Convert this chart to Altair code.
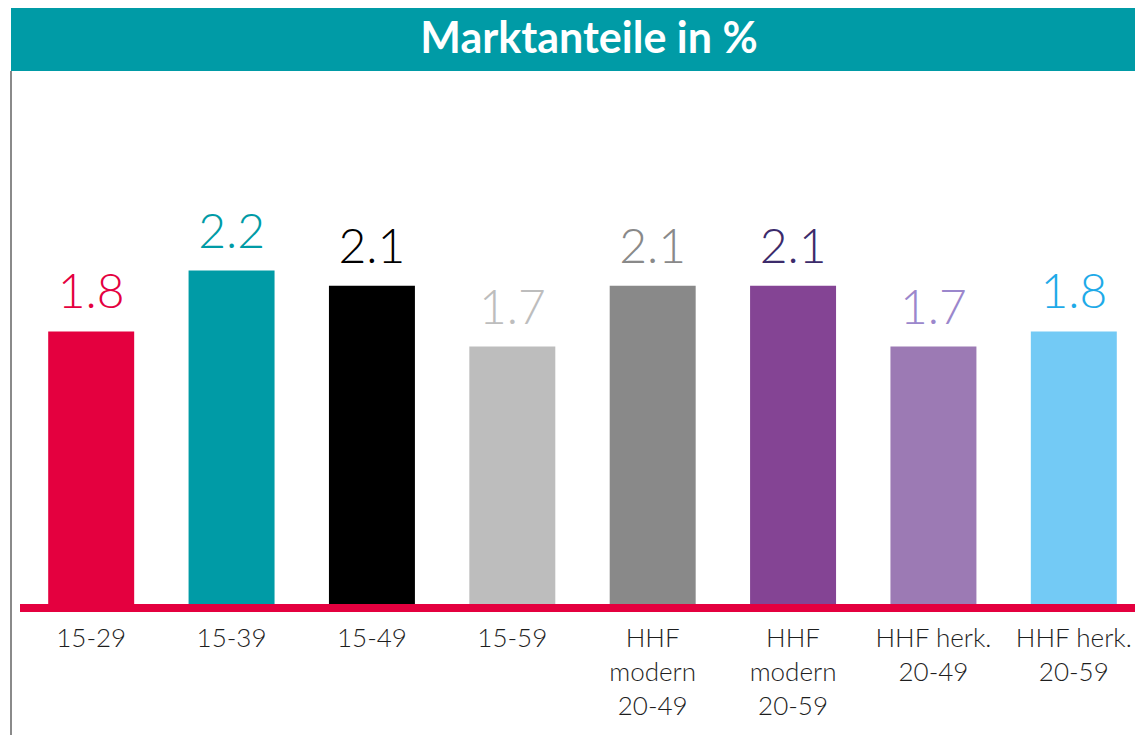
import altair as alt
import pandas as pd

title_text = "Marktanteile in %"
categories = ["15-29", "15-39", "15-49", "15-59",
              "HHF\nmodern\n20-49", "HHF\nmodern\n20-59",
              "HHF herk.\n20-49", "HHF herk.\n20-59"]
values = [1.8, 2.2, 2.1, 1.7, 2.1, 2.1, 1.7, 1.8]
value_labels = ["1.8", "2.2", "2.1", "1.7", "2.1", "2.1", "1.7", "1.8"]
bar_colors = ["#E4003F", "#009BA6", "#000000", "#BDBDBD",
              "#898989", "#844494", "#9C7AB4", "#73CAF5"]
label_colors = ["#E4003F", "#009BA6", "#000000", "#BDBDBD",
                "#898989", "#3C2B6B", "#9B87CC", "#1EAAE8"]

df = pd.DataFrame({
    "cat": categories,
    "value": values,
    "vlabel": value_labels,
    "bar_color": bar_colors,
    "label_color": label_colors,
    "zero": [0.0] * len(values),
})

W, H = 1127, 727
px_per_unit = 152.0
zero_y = 597.0
y_domain = [-(H - zero_y) / px_per_unit, zero_y / px_per_unit]

x_enc = alt.X("cat:N", sort=categories, axis=None,
              scale=alt.Scale(range=[13, 1136], paddingInner=0.3875, paddingOuter=0.19375))
y_scale = alt.Scale(domain=y_domain, nice=False, zero=False)

base = alt.Chart(df)

bars = base.mark_bar().encode(
    x=x_enc,
    y=alt.Y("value:Q", scale=y_scale, axis=None),
    y2=alt.Y2("zero:Q"),
    color=alt.Color("bar_color:N", scale=None, legend=None),
)

vals = base.mark_text(font="Lato", fontWeight=300, fontSize=48,
                      baseline="alphabetic", dy=-23).encode(
    x=x_enc,
    y=alt.Y("value:Q", scale=y_scale, axis=None),
    text="vlabel:N",
    color=alt.Color("label_color:N", scale=None, legend=None),
)

cats = base.mark_text(font="Lato", fontWeight=300, fontSize=26,
                      baseline="alphabetic", lineBreak="\n", lineHeight=34,
                      color="#1E1E1E").encode(
    x=x_enc,
    y=alt.value(639),
    text="cat:N",
)

baseline_rule = base.mark_rule(color="#E4003F", strokeWidth=8, yOffset=3).encode(
    x=alt.value(12), x2=alt.value(W),
    y=alt.Y("zero:Q", scale=y_scale, axis=None),
)

tdf = pd.DataFrame({"t": [title_text]})
header = alt.Chart(tdf).mark_rect(color="#009BA6").encode(
    x=alt.value(3), x2=alt.value(W), y=alt.value(0), y2=alt.value(63),
)
header_text = alt.Chart(tdf).mark_text(font="Lato", fontWeight="bold", fontSize=43,
                                       color="white", baseline="alphabetic").encode(
    x=alt.value(581), y=alt.value(45), text="t:N",
)
border = alt.Chart(tdf).mark_rule(color="#8A8A8A", strokeWidth=2).encode(
    x=alt.value(3), y=alt.value(63), y2=alt.value(H),
)

chart = alt.layer(header, header_text, border, bars, baseline_rule, vals, cats).properties(
    width=W, height=H, padding=0, autosize=alt.AutoSizeParams(type="none"),
    background="white",
).configure_view(stroke=None)

chart.save("out.html", embed_options={"renderer": "svg", "actions": False})
